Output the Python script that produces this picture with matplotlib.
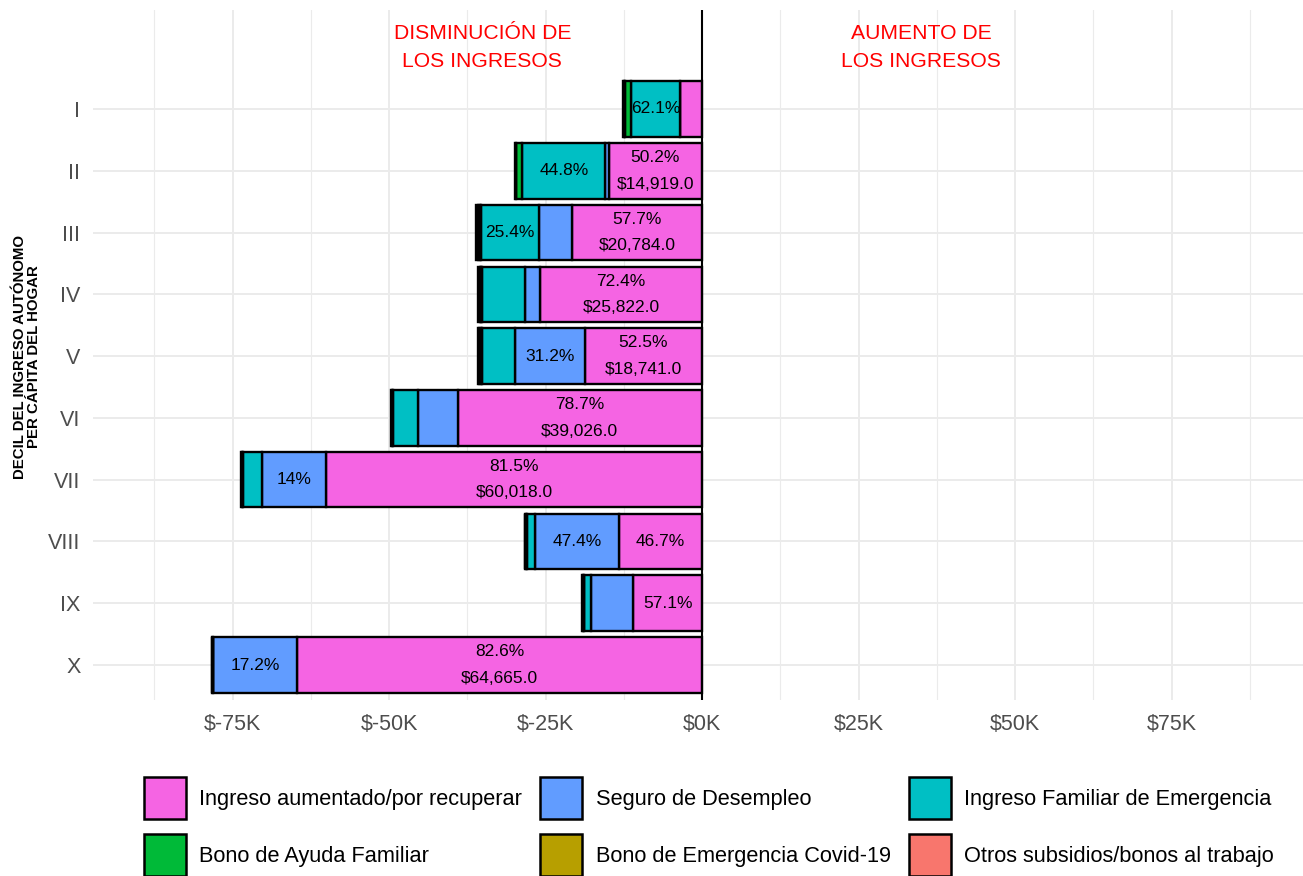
import matplotlib
matplotlib.use("Agg")
import matplotlib.pyplot as plt
from matplotlib.patches import Patch
from matplotlib.ticker import FuncFormatter, MultipleLocator

plt.rcParams['font.family'] = ['Liberation Sans', 'DejaVu Sans']

# ---------------- data ----------------
deciles = ['I', 'II', 'III', 'IV', 'V', 'VI', 'VII', 'VIII', 'IX', 'X']

series_names = ['Ingreso aumentado/por recuperar', 'Seguro de Desempleo',
                'Ingreso Familiar de Emergencia', 'Bono de Ayuda Familiar',
                'Bono de Emergencia Covid-19', 'Otros subsidios/bonos al trabajo']
series_colors = ['#F564E3', '#619CFF', '#00BFC4', '#00BA38', '#B79F00', '#F8766D']

# decrease of income (dollars) by source, per decile
ingreso = [3500, 14919, 20784, 25822, 18741, 39026, 60018, 13260, 11000, 64665]
seguro = [0, 500, 5300, 2400, 11137, 6300, 10310, 13460, 6700, 13465]
ife = [7900, 13314, 9149, 6900, 5300, 4100, 3000, 1300, 1100, 0]
ayuda = [900, 900, 300, 150, 150, 60, 100, 100, 100, 50]
covid = [150, 150, 250, 250, 250, 60, 100, 100, 100, 50]
otros = [150, 150, 250, 200, 150, 60, 100, 100, 100, 50]

ingreso_pct = ['', '50.2%', '57.7%', '72.4%', '52.5%', '78.7%', '81.5%', '46.7%', '57.1%', '82.6%']
ingreso_amt = ['', '$14,919.0', '$20,784.0', '$25,822.0', '$18,741.0', '$39,026.0',
               '$60,018.0', '', '', '$64,665.0']
seguro_pct = ['', '', '', '', '31.2%', '', '14%', '47.4%', '', '17.2%']
ife_pct = ['62.1%', '44.8%', '25.4%', '', '', '', '', '', '', '']

x_ticks = [-75000, -50000, -25000, 0, 25000, 50000, 75000]

# ---------------- figure ----------------
W, H = 1303, 876
fig = plt.figure(figsize=(W / 100, H / 100), dpi=100)
ax_l, ax_r, ax_t, ax_b = 93, 1303, 10, 700
ax = fig.add_axes([ax_l / W, 1 - ax_b / H, (ax_r - ax_l) / W, (ax_b - ax_t) / H])

px_per_k = 6.26
ax.set_xlim((ax_l - 702) / px_per_k * 1000, (ax_r - 702) / px_per_k * 1000)
row = 61.8
ax.set_ylim(9 + (ax_b - 665) / row, -(109 - ax_t) / row)

ypos = list(range(len(deciles)))
all_series = [ingreso, seguro, ife, ayuda, covid, otros]
left = [0.0] * len(deciles)
lefts = []
for vals, col in zip(all_series, series_colors):
    starts = [l - v for l, v in zip(left, vals)]
    ax.barh(ypos, vals, left=starts, height=0.9, color=col,
            edgecolor='black', linewidth=1.7, zorder=3)
    lefts.append(starts)
    left = starts

lab_fs = 12.5
for i in ypos:
    cx = -ingreso[i] / 2
    if ingreso_pct[i] and ingreso_amt[i]:
        ax.text(cx, i - 0.215, ingreso_pct[i], ha='center', va='center', fontsize=lab_fs, zorder=5)
        ax.text(cx, i + 0.215, ingreso_amt[i], ha='center', va='center', fontsize=lab_fs, zorder=5)
    elif ingreso_pct[i]:
        ax.text(cx, i, ingreso_pct[i], ha='center', va='center', fontsize=lab_fs, zorder=5)
    if seguro_pct[i]:
        cx = lefts[1][i] + seguro[i] / 2
        ax.text(cx, i, seguro_pct[i], ha='center', va='center', fontsize=lab_fs, zorder=5)
    if ife_pct[i]:
        cx = lefts[2][i] + ife[i] / 2
        ax.text(cx, i, ife_pct[i], ha='center', va='center', fontsize=lab_fs, zorder=5)

ax.axvline(0, color='black', linewidth=1.5, zorder=4)

ax.text(-35100, -0.995, 'DISMINUCIÓN DE\nLOS INGRESOS', color='#FF0000', fontsize=15.2,
        ha='center', va='center', linespacing=1.65)
ax.text(35000, -0.995, 'AUMENTO DE\nLOS INGRESOS', color='#FF0000', fontsize=15.2,
        ha='center', va='center', linespacing=1.65)

# axes styling (minimal theme)
ax.set_xticks(x_ticks)
ax.xaxis.set_major_formatter(FuncFormatter(lambda v, p: '$%dK' % round(v / 1000)))
ax.xaxis.set_minor_locator(MultipleLocator(12500))
ax.set_yticks(ypos)
ax.set_yticklabels(deciles)
ax.tick_params(axis='both', length=0, labelsize=15.5, labelcolor='#4D4D4D')
ax.tick_params(axis='x', pad=10)
ax.tick_params(axis='y', pad=9)
ax.tick_params(axis='x', which='minor', length=0)
ax.grid(True, which='major', color='#EBEBEB', linewidth=1.4, zorder=0)
ax.grid(True, which='minor', axis='x', color='#EBEBEB', linewidth=0.8, zorder=0)
ax.set_axisbelow(True)
for s in ax.spines.values():
    s.set_visible(False)

fig.text(27 / W, 1 - 357 / H, 'DECIL DEL INGRESO AUTÓNOMO\nPER CÁPITA DEL HOGAR',
         rotation=90, ha='center', va='center', fontsize=10.8, fontweight='bold',
         linespacing=1.05)

# legend (row-wise order -> column-major for matplotlib)
leg_fs = 15.7
handles = [Patch(facecolor=c, edgecolor='black', linewidth=1.8) for c in series_colors]
order = [0, 3, 1, 4, 2, 5]
fig.legend([handles[k] for k in order], [series_names[k] for k in order],
           ncol=3, frameon=False, fontsize=leg_fs, handlelength=1.91, handleheight=2.56,
           handletextpad=0.62, columnspacing=0.85, labelspacing=0.7,
           loc='center', bbox_to_anchor=(709 / W, 1 - 826.5 / H))

fig.savefig('out.png', dpi=100)
